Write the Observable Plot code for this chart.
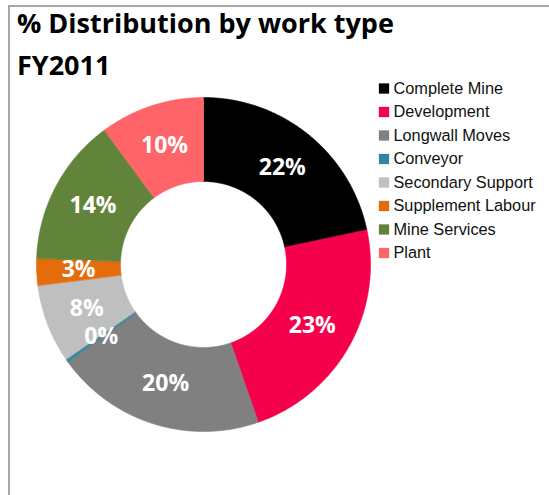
<!DOCTYPE html>
<html>
<head>
<meta charset="utf-8">
<script src="https://cdn.jsdelivr.net/npm/d3@7"></script>
<script src="https://cdn.jsdelivr.net/npm/@observablehq/plot@0.6"></script>
<style>
  html, body { margin: 0; padding: 0; background: #fff; }
  body { width: 549px; height: 495px; position: relative; overflow: hidden; }
  #frame { position: absolute; left: 8px; top: 5px; right: -4px; bottom: -4px;
           border-top: 2px solid #a6a6a6; border-left: 2px solid #a6a6a6; pointer-events: none; }
  #title { box-sizing: border-box; height: 80px; padding: 2px 0 0 17px; margin: 0;
           font-family: "Open Sans", sans-serif; font-weight: bold; font-size: 27px;
           line-height: 42px; color: #000; }
  #chart svg { display: block; }
</style>
</head>
<body>
<div id="frame"></div>
<div id="title">% Distribution by work type<br>FY2011</div>
<div id="chart"></div>
<script>
// ---- data ----
const categories = ["Complete Mine", "Development", "Longwall Moves", "Conveyor",
                    "Secondary Support", "Supplement Labour", "Mine Services", "Plant"];
const shares = [21.7, 23.0, 20.4, 0.3, 7.6, 2.6, 14.3, 10.1];
const colors = ["#000000", "#F5004B", "#808080", "#31849B",
                "#BFBFBF", "#E46C0A", "#62843A", "#FF6469"];

// ---- geometry (pixel units of the SVG) ----
const W = 549, H = 415;
const cx = 203, cy = 184;      // donut centre
const R = 167, r0 = 83;        // outer / inner radius
const rLabel = 125;

const data = categories.map((c, i) => ({category: c, value: shares[i]}));
const arcs = d3.pie().sort(null).value(d => d.value)(data);

// polygon outline of every slice
const pts = [];
const step = Math.PI / 360;
for (const a of arcs) {
  const n = Math.max(2, Math.ceil((a.endAngle - a.startAngle) / step));
  for (let k = 0; k <= n; k++) {
    const t = a.startAngle + (a.endAngle - a.startAngle) * k / n;
    pts.push({category: a.data.category, x: R * Math.sin(t), y: -R * Math.cos(t)});
  }
  for (let k = n; k >= 0; k--) {
    const t = a.startAngle + (a.endAngle - a.startAngle) * k / n;
    pts.push({category: a.data.category, x: r0 * Math.sin(t), y: -r0 * Math.cos(t)});
  }
}
const labels = arcs.map(a => {
  const m = (a.startAngle + a.endAngle) / 2;
  return {x: rLabel * Math.sin(m), y: -rLabel * Math.cos(m), text: Math.round(a.data.value) + "%"};
});

// legend rows
const legendTop = 8, legendStep = 23.5, legendSq = 383.5 - cx, legendTx = 393 - cx;
const legend = categories.map((c, i) => ({category: c, y: legendTop + i * legendStep - cy}));

const plot = Plot.plot({
  width: W, height: H, margin: 0,
  x: {domain: [-cx, W - cx], range: [0, W], axis: null},
  y: {domain: [-cy, H - cy], range: [0, H], axis: null},
  color: {domain: categories, range: colors},
  style: {background: "transparent"},
  marks: [
    Plot.line(pts, {x: "x", y: "y", z: "category", fill: "category", stroke: "category",
                    strokeWidth: 0.6, curve: "linear-closed"}),
    Plot.text(labels, {x: "x", y: "y", text: "text", fill: "white", fontSize: 23,
                       fontWeight: "bold", fontFamily: "Open Sans, sans-serif"}),
    Plot.dot(legend, {x: () => legendSq, y: "y", symbol: "square", r: 5.8, fill: "category", stroke: null}),
    Plot.text(legend, {x: () => legendTx, y: "y", text: "category", textAnchor: "start",
                       fontSize: 16.3, fill: "#111", fontFamily: "Liberation Sans, Arial, sans-serif"})
  ]
});
document.getElementById("chart").appendChild(plot);
</script>
</body>
</html>
